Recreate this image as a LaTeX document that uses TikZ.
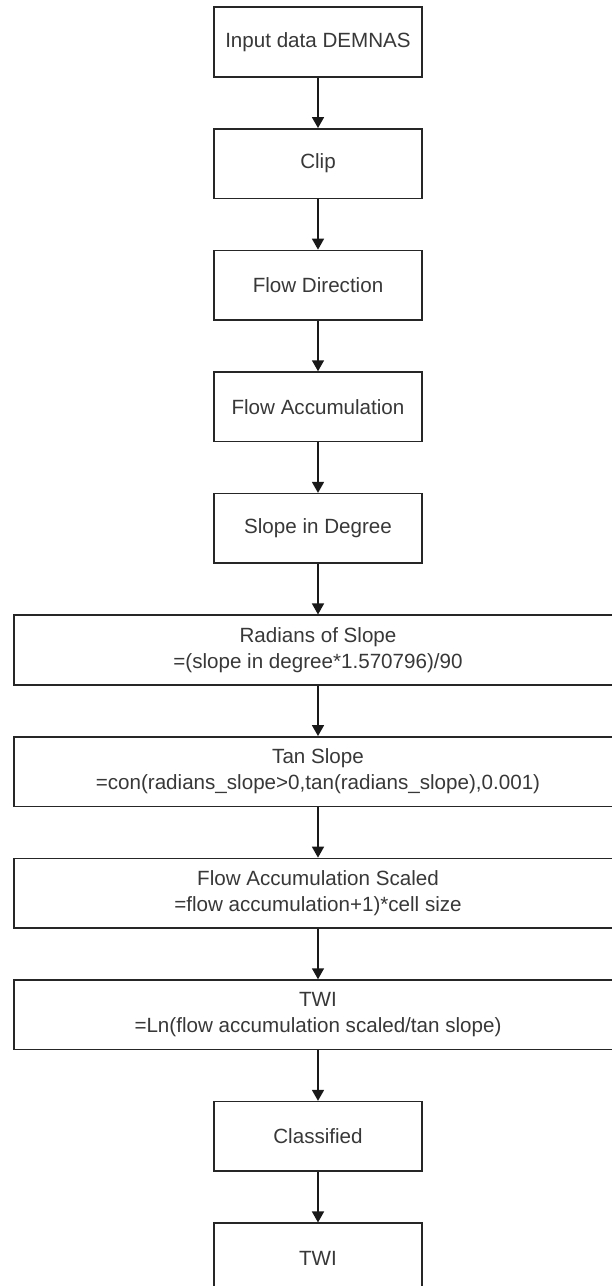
\documentclass[tikz,border=0pt]{standalone}
\usepackage{fontspec}
\setmainfont{Liberation Sans}
\usetikzlibrary{arrows.meta}
\begin{document}
\begin{tikzpicture}[x=1pt,y=-1pt,
  box/.style={draw=black!85, line width=1.6pt, fill=white, inner sep=0pt,
    minimum height=69.5pt, align=center, text=black!78,
    font=\fontsize{20.6}{26}\selectfont},
  smallbox/.style={box, minimum width=208pt},
  widebox/.style={box, minimum width=608pt},
  flow/.style={draw=black!90, line width=1.6pt,
    -{Triangle[length=11pt,width=12pt]}}]
  \clip (0,0) rectangle (612,1286);
  \fill[white] (0,0) rectangle (612,1286);
  % processing chain, top to bottom
  \node[smallbox] (dem)    at (318,42)    {Input data DEMNAS};
  \node[smallbox] (clip)   at (318,163.6) {Clip};
  \node[smallbox] (fdir)   at (318,285.2) {Flow Direction};
  \node[smallbox] (facc)   at (318,406.8) {Flow Accumulation};
  \node[smallbox] (sdeg)   at (318,528.4) {Slope in Degree};
  \node[widebox]  (srad)   at (318,650)   {Radians of Slope\\=(slope in degree*1.570796)/90};
  \node[widebox]  (stan)   at (318,771.6) {Tan Slope\\=con(radians\_slope>0,tan(radians\_slope),0.001)};
  \node[widebox]  (fscl)   at (318,893.2) {Flow Accumulation Scaled\\=flow accumulation+1)*cell size};
  \node[widebox]  (twi)    at (318,1014.8){TWI\\=Ln(flow accumulation scaled/tan slope)};
  \node[smallbox] (cls)    at (318,1136.4){Classified};
  \node[smallbox] (out)    at (318,1258)  {TWI};
  % connectors
  \foreach \a/\b in {dem/clip, clip/fdir, fdir/facc, facc/sdeg, sdeg/srad,
                     srad/stan, stan/fscl, fscl/twi, twi/cls, cls/out}
    \draw[flow] (\a.south) -- (\b.north);
\end{tikzpicture}
\end{document}
